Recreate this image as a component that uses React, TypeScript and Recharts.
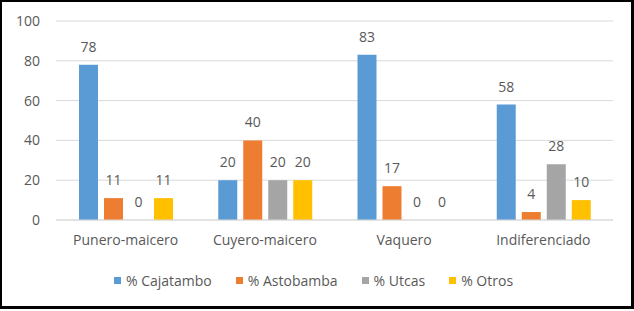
import { Bar, BarChart, CartesianGrid, LabelList, Legend, XAxis, YAxis } from "recharts";

const categories = ["Punero-maicero", "Cuyero-maicero", "Vaquero", "Indiferenciado"];
const cajatambo = [78, 20, 83, 58];
const astobamba = [11, 40, 17, 4];
const utcas = [0, 20, 0, 28];
const otros = [11, 20, 0, 10];
const yTicks = [0, 20, 40, 60, 80, 100];
const seriesNames = ["% Cajatambo", "% Astobamba", "% Utcas", "% Otros"];

const data = categories.map((name, i) => ({
  name,
  cajatambo: cajatambo[i],
  astobamba: astobamba[i],
  utcas: utcas[i],
  otros: otros[i],
}));

const textColor = "#595959";
const font = "'Open Sans', 'Liberation Sans', Arial, sans-serif";

// zero-value bars still need their "0" label, so give them a hair of height
const tinyForZero = (value: any) => (Number(value) === 0 ? 0.01 : 0);

const ValueLabel = (props: any) => {
  const { x, y, width, value } = props;
  return (
    <text
      x={Number(x) + Number(width) / 2}
      y={Number(y) - 13}
      textAnchor="middle"
      fill={textColor}
      fontSize={14}
      fontFamily={font}
    >
      {value}
    </text>
  );
};

const LegendContent = (props: any) => {
  const items = [...(props.payload || [])].sort(
    (a: any, b: any) => seriesNames.indexOf(a.value) - seriesNames.indexOf(b.value)
  );
  return (
    <div style={{ display: "flex", justifyContent: "center", height: 20, alignItems: "center", paddingLeft: 12 }}>
      {items.map((item: any, i: number) => (
        <div key={i} style={{ display: "flex", alignItems: "center", marginRight: i < items.length - 1 ? 24 : 0 }}>
          <span style={{ width: 7, height: 7, background: item.color, display: "inline-block", marginRight: 5 }} />
          <span style={{ fontSize: 14, color: textColor, fontFamily: font }}>{item.value}</span>
        </div>
      ))}
    </div>
  );
};

export default function App() {
  return (
    <div
      style={{
        position: "absolute",
        left: 0,
        top: 0,
        width: 634,
        height: 309,
        boxSizing: "border-box",
        borderStyle: "solid",
        borderColor: "#000",
        borderWidth: "2px 3px 3px 2px",
        background: "#fff",
      }}
    >
      <BarChart
        width={629}
        height={304}
        data={data}
        margin={{ top: 19, right: 18, left: 0, bottom: 16 }}
        barSize={19}
        barGap={6}
      >
        <CartesianGrid vertical={false} stroke="#D9D9D9" />
        <XAxis
          dataKey="name"
          tickLine={false}
          axisLine={{ stroke: "#D9D9D9" }}
          tickMargin={9}
          height={50}
          tick={{ fill: textColor, fontSize: 14, fontFamily: font }}
        />
        <YAxis
          domain={[0, 100]}
          ticks={yTicks}
          width={54}
          tickLine={false}
          axisLine={false}
          tickMargin={10}
          tick={{ fill: textColor, fontSize: 14, fontFamily: font }}
        />
        <Legend verticalAlign="bottom" content={<LegendContent />} />
        <Bar dataKey="cajatambo" name={seriesNames[0]} fill="#5B9BD5" isAnimationActive={false}>
          <LabelList dataKey="cajatambo" content={<ValueLabel />} />
        </Bar>
        <Bar dataKey="astobamba" name={seriesNames[1]} fill="#ED7D31" isAnimationActive={false}>
          <LabelList dataKey="astobamba" content={<ValueLabel />} />
        </Bar>
        <Bar dataKey="utcas" name={seriesNames[2]} fill="#A5A5A5" minPointSize={tinyForZero} isAnimationActive={false}>
          <LabelList dataKey="utcas" content={<ValueLabel />} />
        </Bar>
        <Bar dataKey="otros" name={seriesNames[3]} fill="#FFC000" minPointSize={tinyForZero} isAnimationActive={false}>
          <LabelList dataKey="otros" content={<ValueLabel />} />
        </Bar>
      </BarChart>
    </div>
  );
}
